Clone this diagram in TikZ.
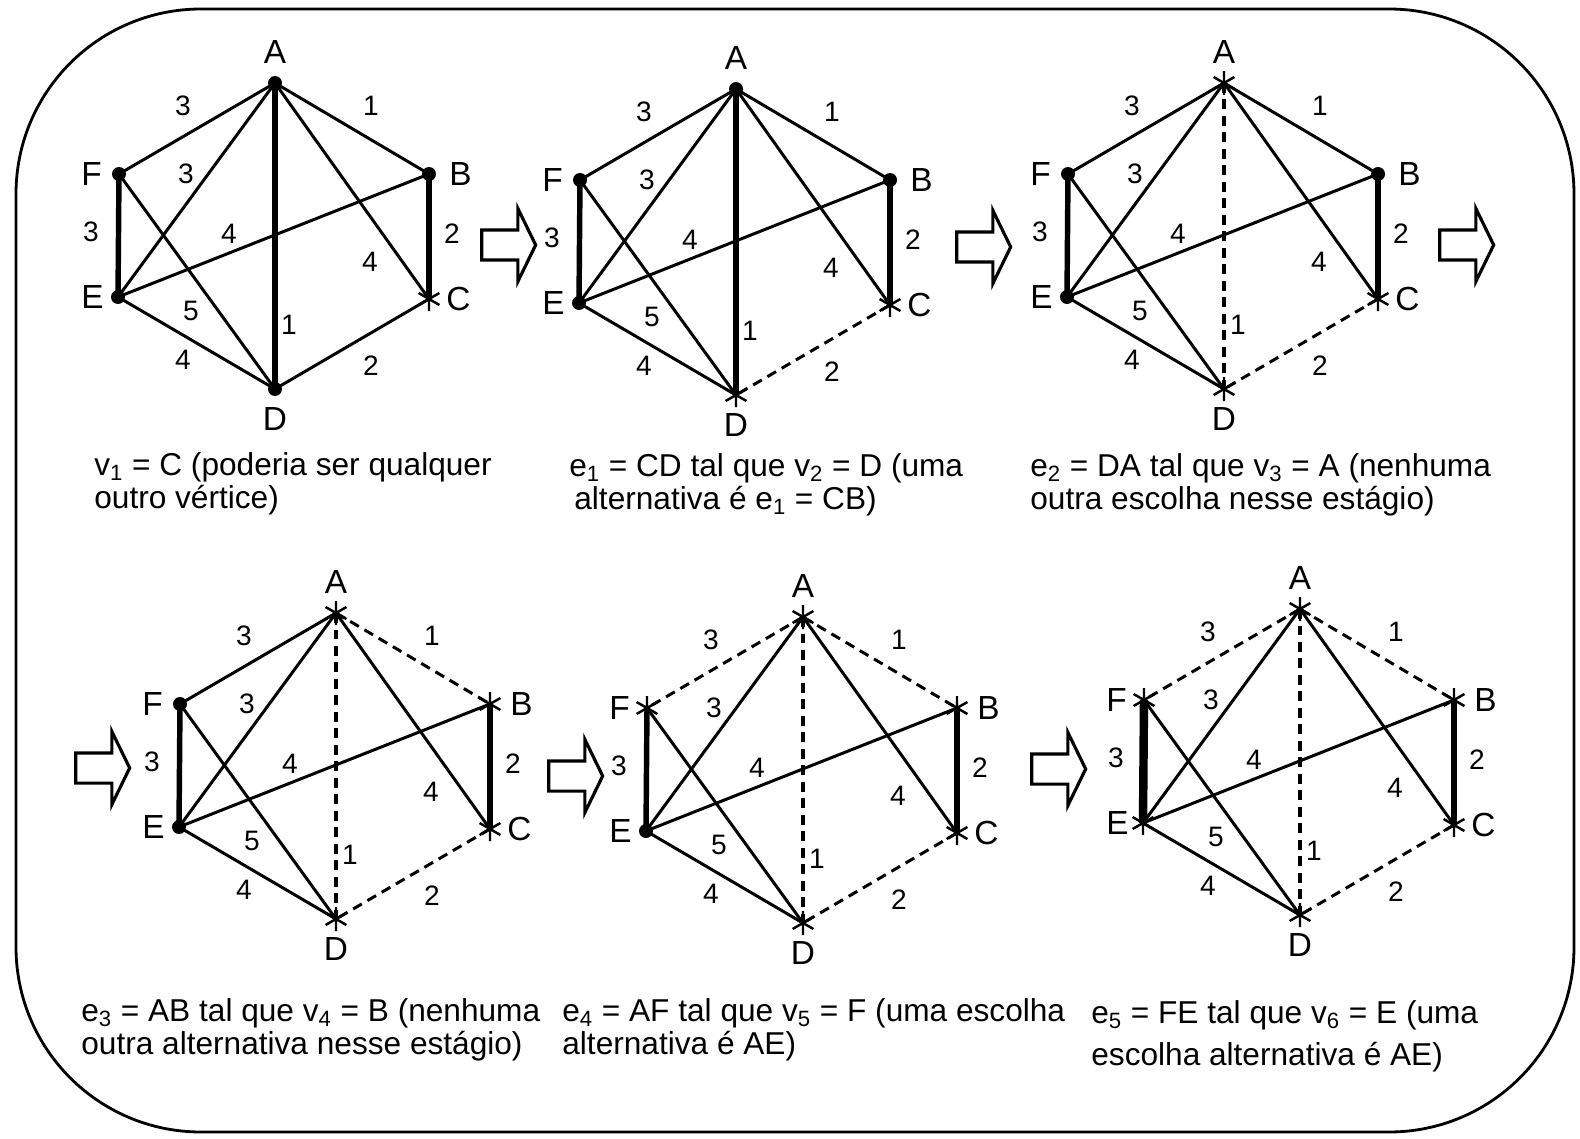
\documentclass[tikz,border=0pt]{standalone}
\usepackage{fontspec}
\setmainfont{Liberation Sans}
\usetikzlibrary{positioning,shapes.arrows}
\newcommand{\fntcap}{\fontsize{18pt}{19pt}\selectfont}
\newcommand{\fntvtx}{\fontsize{19pt}{22pt}\selectfont}
\newcommand{\fntwt}{\fontsize{16pt}{18pt}\selectfont}
\tikzset{
  vtx/.style={circle,inner sep=0pt,minimum size=0.28cm},
  vtx-dot/.style={vtx,fill=black},
  vtx-star/.style={vtx,minimum size=0.52cm,path picture={
      \draw[line width=1.4pt] (path picture bounding box.center)
        +(90:0.24cm) -- +(270:0.24cm)
        +(30:0.24cm) -- +(210:0.24cm)
        +(150:0.24cm) -- +(330:0.24cm);}},
  edge/.style={line width=1.7pt},
  edge-thick/.style={line width=3.1pt},
  edge-heavy/.style={line width=4.8pt},
  edge-dash/.style={line width=1.7pt,dash pattern=on 0.2cm off 0.13cm},
  edge-dash-thick/.style={line width=2.3pt,dash pattern=on 0.2cm off 0.13cm},
  vlabel/.style={font=\fntvtx,inner sep=0pt},
  wt/.style={font=\fntwt,inner sep=0pt},
  caption/.style={font=\fntcap,align=left,anchor=north west,inner sep=0pt},
  blk-arrow/.style={single arrow,draw,line width=1.8pt,inner xsep=0pt,
    inner ysep=0.27cm,minimum height=1.08cm,single arrow head extend=0.43cm,
    single arrow tip angle=128},
  frame/.style={line width=1.6pt,rounded corners=3.7cm},
  % estado inicial de cada painel: todos os vértices com ponto
  mA/.style={vtx-dot}, mB/.style={vtx-dot}, mC/.style={vtx-dot},
  mD/.style={vtx-dot}, mE/.style={vtx-dot}, mF/.style={vtx-dot},
  eAB/.style={edge}, eAF/.style={edge}, eAE/.style={edge},
  eAD/.style={edge-thick}, eAC/.style={edge}, eFE/.style={edge-thick},
  eFD/.style={edge}, eEB/.style={edge}, eED/.style={edge},
  eBC/.style={edge-thick}, eCD/.style={edge},
}
% um painel do grafo; #1 = posição de A, #2 = estilos do passo
\newcommand{\hexpanel}[2]{%
  \begin{scope}[shift={(#1)},#2]
    \node[mA] (vA) at (0,0) {};
    \node[mF] (vF) at (-156,91) {};
    \node[mB] (vB) at (154,91) {};
    \node[mE] (vE) at (-157,214) {};
    \node[mC] (vC) at (154,216) {};
    \node[mD] (vD) at (0,306) {};
    \node[vlabel,above=0.38cm of vA.center] (lA) {A};
    \node[vlabel,left=0.34cm of vF.center] (lF) {F};
    \node[vlabel,right=0.4cm of vB.center] (lB) {B};
    \node[vlabel,left=0.28cm of vE.center] (lE) {E};
    \node[vlabel,right=0.34cm of vC.center] (lC) {C};
    \node[vlabel,below=0.36cm of vD.center] (lD) {D};
    \draw[eAF] (vA.center) -- (vF.center);
    \draw[eAB] (vA.center) -- (vB.center);
    \draw[eAE] (vA.center) -- (vE.center);
    \draw[eAD] (vA.center) -- (vD.center);
    \draw[eAC] (vA.center) -- (vC.center);
    \draw[eFE] (vF.center) -- (vE.center);
    \draw[eFD] (vF.center) -- (vD.center);
    \draw[eEB] (vE.center) -- (vB.center);
    \draw[eED] (vE.center) -- (vD.center);
    \draw[eBC] (vB.center) -- (vC.center);
    \draw[eCD] (vC.center) -- (vD.center);
    \node[wt] (wAF) at (-92,23) {3};
    \node[wt] (wAB) at (96,23) {1};
    \node[wt] (wAE) at (-89,91) {3};
    \node[wt] (wFE) at (-184,149) {3};
    \node[wt] (wEB) at (-46,151) {4};
    \node[wt] (wBC) at (177,151) {2};
    \node[wt] (wAC) at (95,179) {4};
    \node[wt] (wFD) at (-84,228) {5};
    \node[wt] (wAD) at (14,242) {1};
    \node[wt] (wED) at (-92,277) {4};
    \node[wt] (wCD) at (96,283) {2};
  \end{scope}}

\begin{document}
\begin{tikzpicture}[x=0.02cm,y=-0.02cm]
  \useasboundingbox (0,0) rectangle (1580,1139);
  \draw[frame] (16,9) rectangle (1574,1132);

  \hexpanel{275,83}{mC/.style={vtx-star}}
  \hexpanel{736,89}{mC/.style={vtx-star},mD/.style={vtx-star},
    eCD/.style={edge-dash}}
  \hexpanel{1224,83}{mA/.style={vtx-star},mC/.style={vtx-star},
    mD/.style={vtx-star},eCD/.style={edge-dash},eAD/.style={edge-dash-thick}}
  \hexpanel{336,613}{mA/.style={vtx-star},mB/.style={vtx-star},
    mC/.style={vtx-star},mD/.style={vtx-star},eCD/.style={edge-dash},
    eAD/.style={edge-dash-thick},eAB/.style={edge-dash}}
  \hexpanel{803,617}{mA/.style={vtx-star},mB/.style={vtx-star},
    mC/.style={vtx-star},mD/.style={vtx-star},mF/.style={vtx-star},
    eCD/.style={edge-dash},eAD/.style={edge-dash-thick},
    eAB/.style={edge-dash},eAF/.style={edge-dash}}
  \hexpanel{1300,609}{mA/.style={vtx-star},mB/.style={vtx-star},
    mC/.style={vtx-star},mD/.style={vtx-star},mF/.style={vtx-star},
    mE/.style={vtx-star},eCD/.style={edge-dash},eAD/.style={edge-dash-thick},
    eAB/.style={edge-dash},eAF/.style={edge-dash},eFE/.style={edge-heavy}}

  \node[blk-arrow] (go1) at (505,245) {};
  \node[blk-arrow] (go2) at (980,247) {};
  \node[blk-arrow] (go3) at (1463,245) {};
  \node[blk-arrow] (go4) at (99,768) {};
  \node[blk-arrow] (go5) at (572,776) {};
  \node[blk-arrow] (go6) at (1055,769) {};

  \node[caption] (cap1) at (94,452)
    {v\textsubscript{1} = C (poderia ser qualquer\\outro vértice)};
  \node[caption] (cap2) at (569,453)
    {e\textsubscript{1} = CD tal que v\textsubscript{2} = D (uma\\\hspace{0.1cm}alternativa é e\textsubscript{1} = CB)};
  \node[caption] (cap3) at (1030,453)
    {e\textsubscript{2} = DA tal que v\textsubscript{3} = A (nenhuma\\outra escolha nesse estágio)};
  \node[caption] (cap4) at (81,998)
    {e\textsubscript{3} = AB tal que v\textsubscript{4} = B (nenhuma\\outra alternativa nesse estágio)};
  \node[caption] (cap5) at (562,998)
    {e\textsubscript{4} = AF tal que v\textsubscript{5} = F (uma escolha\\alternativa é AE)};
  \node[caption] (cap6) at (1091,1000)
    {e\textsubscript{5} = FE tal que v\textsubscript{6} = E (uma\\[5pt]escolha alternativa é AE)};
\end{tikzpicture}
\end{document}
